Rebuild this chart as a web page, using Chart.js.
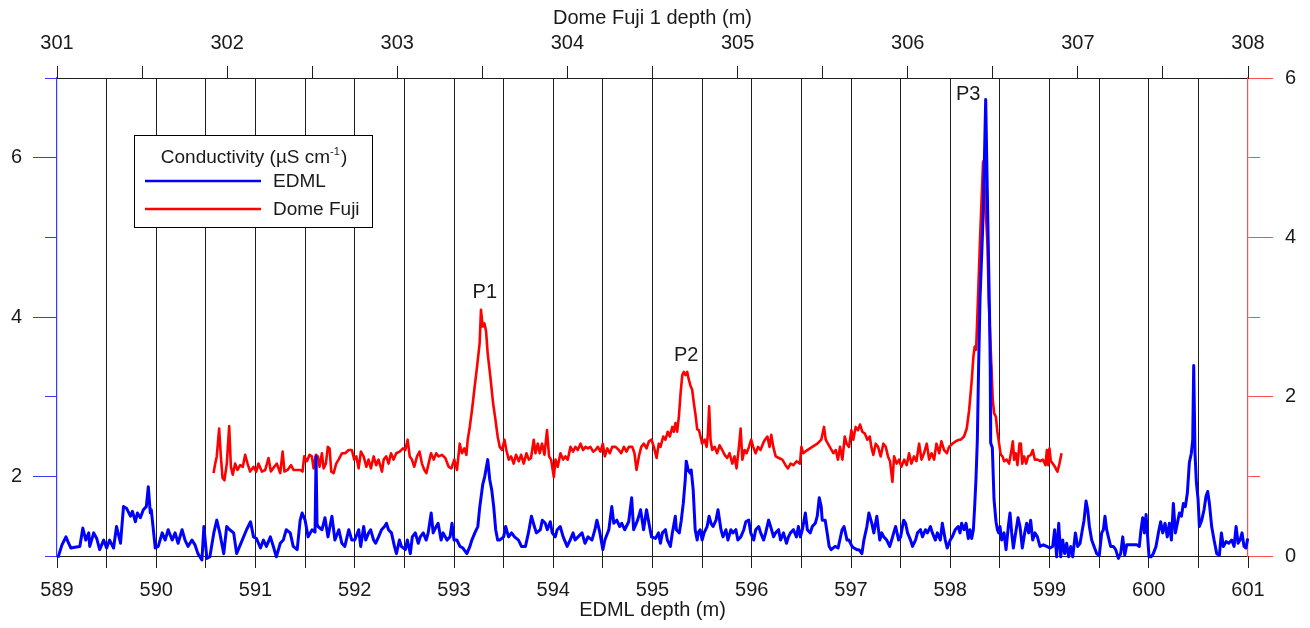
<!DOCTYPE html>
<html>
<head>
<meta charset="utf-8">
<title>EDML / Dome Fuji conductivity</title>
<script src="https://cdn.jsdelivr.net/npm/chart.js"></script>
<style>
  body { margin: 0; background: #fff; }
  canvas { display: block; }
</style>
</head>
<body>
<canvas id="chart" width="1310" height="628"></canvas>
<script>
// EDML conductivity, plotted against EDML depth (bottom axis)
const edmlDepth = [
  589.01,589.05,589.09,589.11,589.14,589.18,589.23,589.26,589.29,589.32,
  589.33,589.37,589.40,589.43,589.47,589.50,589.53,589.57,589.60,589.64,
  589.67,589.70,589.74,589.76,589.79,589.81,589.84,589.87,589.90,589.92,
  589.94,589.95,589.99,590.02,590.06,590.09,590.12,590.16,590.19,590.22,
  590.26,590.29,590.32,590.36,590.39,590.42,590.46,590.48,590.51,590.54,
  590.58,590.61,590.64,590.68,590.71,590.74,590.78,590.81,590.84,590.88,
  590.91,590.95,590.98,591.01,591.05,591.08,591.11,591.15,591.18,591.21,
  591.25,591.28,591.31,591.35,591.38,591.42,591.45,591.47,591.50,591.53,
  591.57,591.60,591.61,591.62,591.63,591.67,591.70,591.73,591.77,591.80,
  591.84,591.87,591.90,591.94,591.97,592.00,592.04,
  592.06,592.09,592.11,592.14,592.16,592.19,592.21,592.24,592.27,592.30,
  592.32,592.34,592.37,592.40,592.42,592.45,592.47,592.51,592.53,592.56,
  592.58,592.61,592.64,592.66,592.69,592.72,592.74,592.77,592.79,592.82,
  592.84,592.87,592.89,592.93,592.96,592.98,593.00,593.03,593.06,593.09,
  593.13,593.16,593.18,593.21,593.24,593.26,593.29,593.31,593.34,593.36,
  593.38,593.40,593.42,593.44,593.46,593.50,593.52,593.55,593.58,593.61,
  593.65,593.68,593.72,593.75,593.78,593.81,593.83,593.87,593.89,593.92,
  593.94,593.97,593.99,594.02,594.04,594.07,594.10,594.14,594.17,594.20,
  594.22,594.25,594.29,594.32,594.35,594.39,594.42,594.44,594.47,594.50,
  594.52,594.56,594.59,594.61,594.64,594.67,594.69,594.72,594.76,594.79,
  594.81,594.85,594.88,594.91,594.94,594.97,594.99,595.03,595.06,
  595.08,595.10,595.13,595.15,595.18,595.20,595.23,595.24,595.27,595.29,
  595.31,595.33,595.34,595.36,595.38,595.39,595.41,595.43,595.45,595.46,
  595.48,595.50,595.52,595.55,595.57,595.59,595.61,595.64,595.66,595.69,
  595.71,595.74,595.76,595.79,595.81,595.84,595.86,595.89,595.92,595.94,
  595.97,595.99,596.02,596.04,596.07,596.09,596.12,596.14,596.17,596.19,
  596.22,596.24,596.27,596.29,596.32,596.35,596.37,596.39,596.42,596.45,
  596.47,596.49,596.51,596.54,596.56,596.59,596.61,596.64,596.66,596.68,
  596.70,596.71,596.74,596.76,596.78,596.80,596.84,596.87,596.91,596.93,
  596.96,596.98,597.01,597.03,597.06,597.08,597.11,597.13,597.16,597.18,
  597.21,597.23,597.26,597.29,597.31,597.33,597.36,597.39,597.41,597.43,
  597.45,597.48,597.50,597.53,597.55,597.57,597.60,597.62,597.65,597.67,
  597.70,597.72,597.75,597.77,597.80,597.82,597.85,597.87,597.90,597.92,
  597.95,597.97,598.00,598.02,598.05,598.08,
  598.098,598.115,598.139,598.159,598.182,598.199,598.216,598.233,598.246,598.259,
  598.273,598.286,598.300,598.333,598.357,598.377,598.395,598.403,598.407,598.424,
  598.441,598.461,598.475,598.488,598.501,598.518,598.542,598.562,598.585,598.602,
  598.619,598.636,598.659,598.683,598.703,598.726,598.750,598.770,598.790,598.810,
  598.831,598.854,598.878,598.904,598.938,598.972,599.005,599.032,599.052,599.072,
  599.093,599.113,599.133,599.153,599.173,599.193,599.214,599.234,599.261,599.284,
  599.308,599.331,599.348,599.368,599.385,599.402,599.425,599.449,599.475,599.502,
  599.526,599.543,599.559,599.576,599.593,599.616,599.643,599.667,599.694,599.717,
  599.738,599.758,599.778,599.811,599.845,599.879,599.905,599.922,599.939,599.956,
  599.973,599.986,600.003,600.023,600.046,600.073,600.097,600.120,600.141,600.164,
  600.187,600.208,600.228,600.248,600.268,600.288,600.309,600.329,600.349,600.369,
  600.389,600.409,600.429,600.443,600.453,600.466,600.480,600.497,600.510,600.534,
  600.557,600.577,600.594,600.611,600.634,600.658,600.685,600.712,600.732,600.752,
  600.779,600.806,600.836,600.860,600.880,600.900,600.920,600.940,600.960,600.980,
  600.997
];
const edmlCond = [
  0.98,1.14,1.24,1.18,1.10,1.11,1.12,1.35,1.20,1.29,
  1.12,1.29,1.22,1.08,1.20,1.10,1.20,1.10,1.37,1.16,
  1.62,1.60,1.50,1.56,1.43,1.54,1.48,1.58,1.62,1.87,
  1.54,1.58,1.10,1.12,1.29,1.20,1.33,1.20,1.29,1.16,
  1.33,1.20,1.12,1.20,1.14,1.03,0.95,1.37,0.97,0.99,
  1.29,1.45,1.29,1.03,1.37,1.33,1.29,1.03,1.12,1.24,
  1.33,1.43,1.24,1.22,1.10,1.20,1.12,1.24,1.12,0.99,
  1.16,1.20,1.33,1.29,1.12,1.08,1.45,1.54,1.45,1.24,
  1.33,1.30,2.25,1.40,1.37,1.33,1.48,1.24,1.50,1.20,
  1.33,1.16,1.12,1.33,1.20,1.20,1.33,
  1.12,1.37,1.20,1.29,1.33,1.20,1.16,1.24,1.33,1.37,
  1.41,1.33,1.29,1.12,1.03,1.20,1.12,1.08,1.20,1.03,
  1.24,1.29,1.16,1.24,1.29,1.20,1.29,1.54,1.29,1.37,
  1.41,1.20,1.29,1.20,1.24,1.41,1.20,1.20,1.12,1.10,
  1.03,1.12,1.20,1.29,1.37,1.62,1.90,2.00,2.21,1.96,
  1.83,1.62,1.33,1.20,1.20,1.24,1.37,1.24,1.29,1.24,
  1.20,1.12,1.12,1.29,1.50,1.37,1.29,1.33,1.45,1.41,
  1.33,1.43,1.29,1.24,1.33,1.37,1.24,1.12,1.20,1.29,
  1.20,1.24,1.29,1.16,1.24,1.20,1.33,1.45,1.29,1.08,
  1.20,1.33,1.62,1.41,1.45,1.37,1.41,1.33,1.43,1.73,
  1.33,1.45,1.58,1.33,1.58,1.37,1.24,1.22,1.29,
  1.16,1.29,1.33,1.20,1.12,1.29,1.50,1.33,1.29,1.45,
  1.66,1.96,2.19,2.08,2.04,2.08,1.83,1.33,1.20,1.29,
  1.33,1.20,1.29,1.37,1.50,1.41,1.37,1.45,1.58,1.33,
  1.24,1.33,1.20,1.33,1.29,1.33,1.20,1.24,1.33,1.43,
  1.45,1.29,1.20,1.33,1.37,1.29,1.20,1.29,1.45,1.37,
  1.24,1.29,1.33,1.20,1.29,1.16,1.24,1.29,1.33,1.24,
  1.37,1.24,1.33,1.54,1.33,1.29,1.37,1.41,1.50,1.73,
  1.62,1.45,1.45,1.29,1.12,1.08,1.12,1.10,1.33,1.37,
  1.20,1.20,1.12,1.10,1.08,1.08,1.03,1.20,1.37,1.54,
  1.41,1.29,1.50,1.20,1.29,1.24,1.20,1.12,1.20,1.29,
  1.37,1.20,1.24,1.45,1.41,1.29,1.20,1.12,1.20,1.29,
  1.33,1.24,1.33,1.29,1.37,1.29,1.20,1.29,1.20,1.41,
  1.20,1.10,1.20,1.24,1.33,1.37,
  1.29,1.41,1.33,1.41,1.22,1.33,1.22,1.33,1.62,1.96,
  2.46,3.39,4.23,5.32,6.73,5.32,4.10,3.39,2.42,2.36,
  1.71,1.43,1.33,1.29,1.37,1.20,1.29,1.08,1.37,1.54,
  1.29,1.10,1.29,1.48,1.37,1.10,1.29,1.41,1.29,1.45,
  1.20,1.29,1.24,1.12,1.14,1.12,1.10,1.12,1.33,0.99,
  1.41,0.99,1.20,1.03,1.16,0.99,1.12,0.99,1.29,1.12,
  1.16,1.33,1.45,1.69,1.58,1.37,1.20,1.12,1.03,1.01,
  1.29,1.33,1.50,1.33,1.24,1.12,1.12,1.08,0.97,1.03,
  1.24,1.01,1.14,1.14,1.14,1.14,1.12,1.33,1.48,1.29,
  1.52,1.29,0.99,0.99,1.03,1.12,1.29,1.43,1.29,1.41,
  1.24,1.41,1.20,1.66,1.29,1.41,1.54,1.50,1.66,1.62,
  1.79,2.17,2.29,2.46,3.39,2.29,1.92,1.71,1.37,1.45,
  1.58,1.75,1.81,1.66,1.37,1.20,1.03,1.01,1.29,1.12,
  1.18,1.16,1.20,1.12,1.37,1.16,1.20,1.29,1.12,1.10,
  1.22
];

// Dome Fuji conductivity, plotted against Dome Fuji 1 depth (top axis)
const dfDepth = [
  301.920,301.930,301.939,301.953,301.963,301.973,301.984,301.998,302.012,302.022,
  302.033,302.047,302.061,302.077,302.092,302.106,302.120,302.135,302.155,302.171,
  302.184,302.204,302.224,302.243,302.257,302.277,302.292,302.312,302.326,302.337,
  302.355,302.375,302.390,302.410,302.430,302.443,302.453,302.469,302.484,302.498,
  302.508,302.522,302.533,302.543,302.557,302.567,302.580,302.592,302.602,302.612,
  302.626,302.641,302.655,302.675,302.694,302.714,302.733,302.747,302.759,302.773,
  302.786,302.802,302.818,302.831,302.845,302.861,302.876,302.890,302.910,302.920,
  302.935,302.949,302.963,302.978,302.994,303.014,303.033,303.047,303.061,303.073,
  303.086,303.100,303.116,303.131,303.145,303.159,303.171,303.184,303.198,303.214,
  303.229,303.243,303.263,303.282,303.302,303.318,303.335,303.351,303.367,303.380,
  303.394,303.406,303.414,303.426,303.439,303.453,303.469,303.484,303.492,303.502,
  303.512,303.522,303.531,303.547,303.563,303.577,303.590,303.602,303.616,303.630,
  303.641,303.655,303.669,303.684,303.698,303.714,303.728,303.743,303.759,303.773,
  303.786,303.802,303.812,303.826,303.837,303.851,303.865,303.880,303.892,303.904,
  303.920,303.930,303.943,303.959,303.975,303.988,304.002,304.018,304.033,304.047,
  304.061,304.077,304.092,304.106,304.120,304.135,304.151,304.165,304.179,304.194,
  304.208,304.220,304.234,304.249,304.263,304.283,304.302,304.316,304.332,304.347,
  304.361,304.381,304.394,304.406,304.420,304.434,304.449,304.465,304.479,304.494,
  304.508,304.524,304.537,
  304.547,304.563,304.576,304.590,304.602,304.616,304.625,304.635,304.645,304.655,
  304.665,304.675,304.684,304.694,304.704,304.714,304.724,304.733,304.743,304.753,
  304.763,304.773,304.782,304.792,304.806,304.818,304.826,304.833,304.841,304.851,
  304.865,304.880,304.894,304.910,304.924,304.939,304.953,304.969,304.982,304.994,
  305.008,305.018,305.028,305.041,305.053,305.067,305.080,305.092,305.106,305.120,
  305.135,305.149,305.161,305.175,305.188,305.198,305.210,305.224,305.243,305.263,
  305.282,305.296,305.312,305.328,305.347,305.367,305.375,305.386,305.410,305.439,
  305.469,305.492,305.508,305.518,305.531,305.547,305.563,305.577,305.590,305.602,
  305.616,305.630,305.641,305.655,305.669,305.680,305.694,305.708,305.720,305.733,
  305.747,305.763,305.777,305.786,305.798,305.812,305.826,305.841,305.857,305.871,
  305.884,305.896,305.910,305.920,305.935,305.949,305.963,305.979,305.994,306.008,
  306.022,306.037,306.051,306.067,306.081,306.096,306.112,306.126,306.140,306.155,
  306.169,306.185,306.198,306.214,306.230,306.243,306.263,306.283,306.302,
  306.312,306.331,306.347,306.361,306.375,306.386,306.394,306.402,306.410,306.426,
  306.443,306.456,306.469,306.476,306.484,306.492,306.500,306.508,306.518,306.527,
  306.537,306.547,306.557,306.567,306.582,306.596,306.610,306.618,306.625,306.635,
  306.645,306.657,306.665,306.673,306.684,306.696,306.708,306.724,306.735,306.747,
  306.763,306.779,306.794,306.810,306.818,306.826,306.833,306.841,306.853,306.865,
  306.880,306.892,306.904
];
const dfCond = [
  1.04,1.16,1.25,1.60,1.25,0.98,0.95,1.16,1.63,1.12,
  1.02,1.16,1.08,1.14,1.12,1.27,1.16,1.06,1.12,1.06,
  1.16,1.06,1.08,1.23,1.06,1.12,1.16,1.04,1.31,1.06,
  1.08,1.14,1.08,1.08,1.08,1.06,1.25,1.19,1.27,1.25,
  1.10,1.27,1.25,1.12,1.29,1.10,1.16,1.37,1.35,1.06,
  1.04,1.16,1.21,1.29,1.29,1.33,1.33,1.21,1.25,1.10,
  1.31,1.25,1.12,1.21,1.10,1.25,1.14,1.21,1.06,1.21,
  1.25,1.16,1.29,1.21,1.29,1.31,1.35,1.33,1.46,1.25,
  1.21,1.12,1.25,1.31,1.16,1.08,1.04,1.16,1.29,1.21,
  1.29,1.25,1.27,1.23,1.12,1.10,1.21,1.08,1.41,1.29,
  1.35,1.27,1.46,1.62,1.83,2.09,2.38,2.67,3.09,2.88,
  2.92,2.82,2.55,2.25,1.92,1.71,1.50,1.37,1.33,1.46,
  1.33,1.21,1.25,1.16,1.27,1.19,1.27,1.16,1.29,1.21,
  1.23,1.46,1.29,1.41,1.29,1.41,1.27,1.58,1.25,1.21,
  0.99,1.21,1.12,1.29,1.21,1.25,1.21,1.37,1.31,1.37,
  1.33,1.41,1.33,1.37,1.35,1.37,1.31,1.33,1.37,1.31,
  1.41,1.25,1.35,1.29,1.37,1.37,1.33,1.29,1.37,1.31,
  1.37,1.37,1.29,1.08,1.25,1.37,1.41,1.35,1.44,1.46,
  1.37,1.23,1.41,
  1.37,1.50,1.46,1.56,1.50,1.62,1.56,1.67,1.56,1.75,
  2.04,2.27,2.31,2.27,2.31,2.21,2.13,2.09,1.92,1.77,
  1.59,1.58,1.50,1.41,1.46,1.37,1.54,1.88,1.46,1.33,
  1.37,1.29,1.39,1.33,1.27,1.23,1.29,1.16,1.25,1.10,
  1.37,1.60,1.21,1.33,1.29,1.37,1.46,1.37,1.29,1.37,
  1.33,1.41,1.46,1.50,1.37,1.52,1.37,1.25,1.23,1.21,
  1.14,1.10,1.16,1.14,1.19,1.16,1.37,1.29,1.33,1.37,
  1.41,1.46,1.62,1.46,1.41,1.35,1.29,1.33,1.21,1.37,
  1.21,1.50,1.41,1.37,1.58,1.46,1.62,1.58,1.65,1.56,
  1.54,1.46,1.50,1.37,1.27,1.41,1.37,1.25,1.41,1.37,
  1.25,1.19,0.93,1.25,1.16,1.21,1.12,1.21,1.14,1.29,
  1.16,1.25,1.19,1.41,1.21,1.29,1.41,1.21,1.29,1.21,
  1.41,1.29,1.44,1.33,1.29,1.37,1.41,1.44,1.46,
  1.46,1.50,1.60,1.83,2.17,2.50,2.63,2.59,3.05,4.03,
  4.95,4.47,3.89,3.20,2.80,2.38,1.96,1.79,1.75,1.56,
  1.41,1.27,1.25,1.19,1.21,1.16,1.33,1.44,1.21,1.29,
  1.14,1.41,1.41,1.16,1.25,1.16,1.25,1.27,1.33,1.21,
  1.21,1.19,1.21,1.14,1.33,1.14,1.35,1.19,1.16,1.12,
  1.06,1.16,1.29
];

// peak labels (EDML depth, Dome Fuji axis level)
const peakNames = ['P1', 'P2', 'P3'];
const peakDepth = [593.31, 595.34, 598.18];
const peakLevel = [3.31, 2.52, 5.79];

const FONT = "'Liberation Sans', Arial, sans-serif";
Chart.defaults.font.family = FONT;
Chart.defaults.font.size = 20;
Chart.defaults.color = '#1a1a1a';

const BLUE = '#0000ff';
const RED = '#ff0000';
const AXIS_BLUE = '#3a3aff';
const AXIS_RED = '#ff5050';

const intLabel = v => Number.isInteger(v) ? v : '';
const evenLabel = v => v % 2 === 0 ? v : '';

const legendBox = {
  id: 'legendBox',
  afterDraw(chart) {
    const c = chart.ctx;
    c.save();
    c.fillStyle = '#fff';
    c.fillRect(134.5, 135.5, 238, 92);
    c.strokeStyle = '#000';
    c.lineWidth = 1;
    c.strokeRect(134.5, 135.5, 238, 92);

    // title with superscript
    const main = 'Conductivity (\u00b5S cm';
    c.font = '19px ' + FONT;
    const wMain = c.measureText(main).width;
    c.font = '11px ' + FONT;
    const wSup = c.measureText('-1').width;
    c.font = '19px ' + FONT;
    const wEnd = c.measureText(')').width;
    let x = 254 - (wMain + wSup + wEnd + 1) / 2;
    c.fillStyle = '#1a1a1a';
    c.textBaseline = 'middle';
    c.textAlign = 'left';
    c.fillText(main, x, 158);
    x += wMain;
    c.font = '11px ' + FONT;
    c.fillText('-1', x, 152);
    x += wSup + 1;
    c.font = '19px ' + FONT;
    c.fillText(')', x, 158);

    const entries = [['EDML', BLUE, 181], ['Dome Fuji', RED, 209]];
    entries.forEach(([name, col, y]) => {
      c.strokeStyle = col;
      c.lineWidth = 2.5;
      c.beginPath();
      c.moveTo(145, y);
      c.lineTo(261, y);
      c.stroke();
      c.fillStyle = '#1a1a1a';
      c.fillText(name, 273, y + 1);
    });
    c.restore();
  }
};

const peakText = {
  id: 'peakText',
  afterDatasetsDraw(chart) {
    const c = chart.ctx;
    const xs = chart.scales.x, ys = chart.scales.yR;
    c.save();
    c.font = '20px ' + FONT;
    c.fillStyle = '#1a1a1a';
    c.textAlign = 'center';
    c.textBaseline = 'middle';
    peakNames.forEach((n, i) => {
      c.fillText(n, xs.getPixelForValue(peakDepth[i]), ys.getPixelForValue(peakLevel[i]));
    });
    c.restore();
  }
};

const ctx = document.getElementById('chart').getContext('2d');
const chart = new Chart(ctx, {
  type: 'line',
  data: {
    datasets: [
      {
        label: 'EDML',
        data: edmlDepth.map((d, i) => ({ x: d, y: edmlCond[i] })),
        xAxisID: 'x',
        yAxisID: 'yL',
        borderColor: BLUE,
        borderWidth: 3,
        pointRadius: 0,
        tension: 0,
        borderJoinStyle: 'round',
        clip: 6
      },
      {
        label: 'Dome Fuji',
        data: dfDepth.map((d, i) => ({ x: d, y: dfCond[i] })),
        xAxisID: 'xTop',
        yAxisID: 'yR',
        borderColor: RED,
        borderWidth: 2.6,
        pointRadius: 0,
        tension: 0,
        borderJoinStyle: 'round',
        clip: 6
      }
    ]
  },
  options: {
    responsive: false,
    animation: false,
    devicePixelRatio: 1,
    layout: { padding: 0 },
    plugins: {
      legend: { display: false },
      tooltip: { enabled: false }
    },
    scales: {
      x: {
        type: 'linear',
        position: 'bottom',
        min: 589,
        max: 601,
        afterFit: s => { s.height = 72; },
        ticks: { stepSize: 0.5, autoSkip: false, maxRotation: 0, padding: 10, callback: intLabel },
        grid: {
          color: c => (c.tick && (c.tick.value === 589 || c.tick.value === 601)) ? 'rgba(0,0,0,0)' : '#1e1e1e',
          tickColor: '#1e1e1e',
          tickLength: 12,
          lineWidth: 1
        },
        border: { color: '#1e1e1e', width: 1 },
        title: { display: true, text: 'EDML depth (m)', padding: { top: 0, bottom: 6 } }
      },
      xTop: {
        type: 'linear',
        position: 'top',
        min: 301,
        max: 308,
        afterFit: s => { s.height = 78; },
        ticks: { stepSize: 0.5, autoSkip: false, maxRotation: 0, padding: 11, callback: intLabel },
        grid: { drawOnChartArea: false, tickLength: 12, color: '#1e1e1e' },
        border: { color: '#1e1e1e', width: 1 },
        title: { display: true, text: 'Dome Fuji 1 depth (m)', padding: { top: 6, bottom: 0 } }
      },
      yL: {
        type: 'linear',
        position: 'left',
        min: 1,
        max: 7,
        afterFit: s => { s.width = 57; },
        ticks: { stepSize: 1, padding: 11, callback: evenLabel },
        grid: {
          drawOnChartArea: false,
          tickLength: 24,
          color: AXIS_BLUE,
          tickBorderDash: c => (c.tick && c.tick.value % 2) ? [0, 12, 12, 0] : []
        },
        border: { color: AXIS_BLUE, width: 1.2 }
      },
      yR: {
        type: 'linear',
        position: 'right',
        min: 0,
        max: 6,
        afterFit: s => { s.width = 62; },
        ticks: { stepSize: 1, padding: 12, callback: evenLabel },
        grid: {
          drawOnChartArea: false,
          tickLength: 25,
          color: AXIS_RED,
          tickBorderDash: c => (c.tick && c.tick.value % 2) ? [12, 13] : []
        },
        border: { color: AXIS_RED, width: 1.2 }
      }
    }
  },
  plugins: [peakText, legendBox]
});
</script>
</body>
</html>
